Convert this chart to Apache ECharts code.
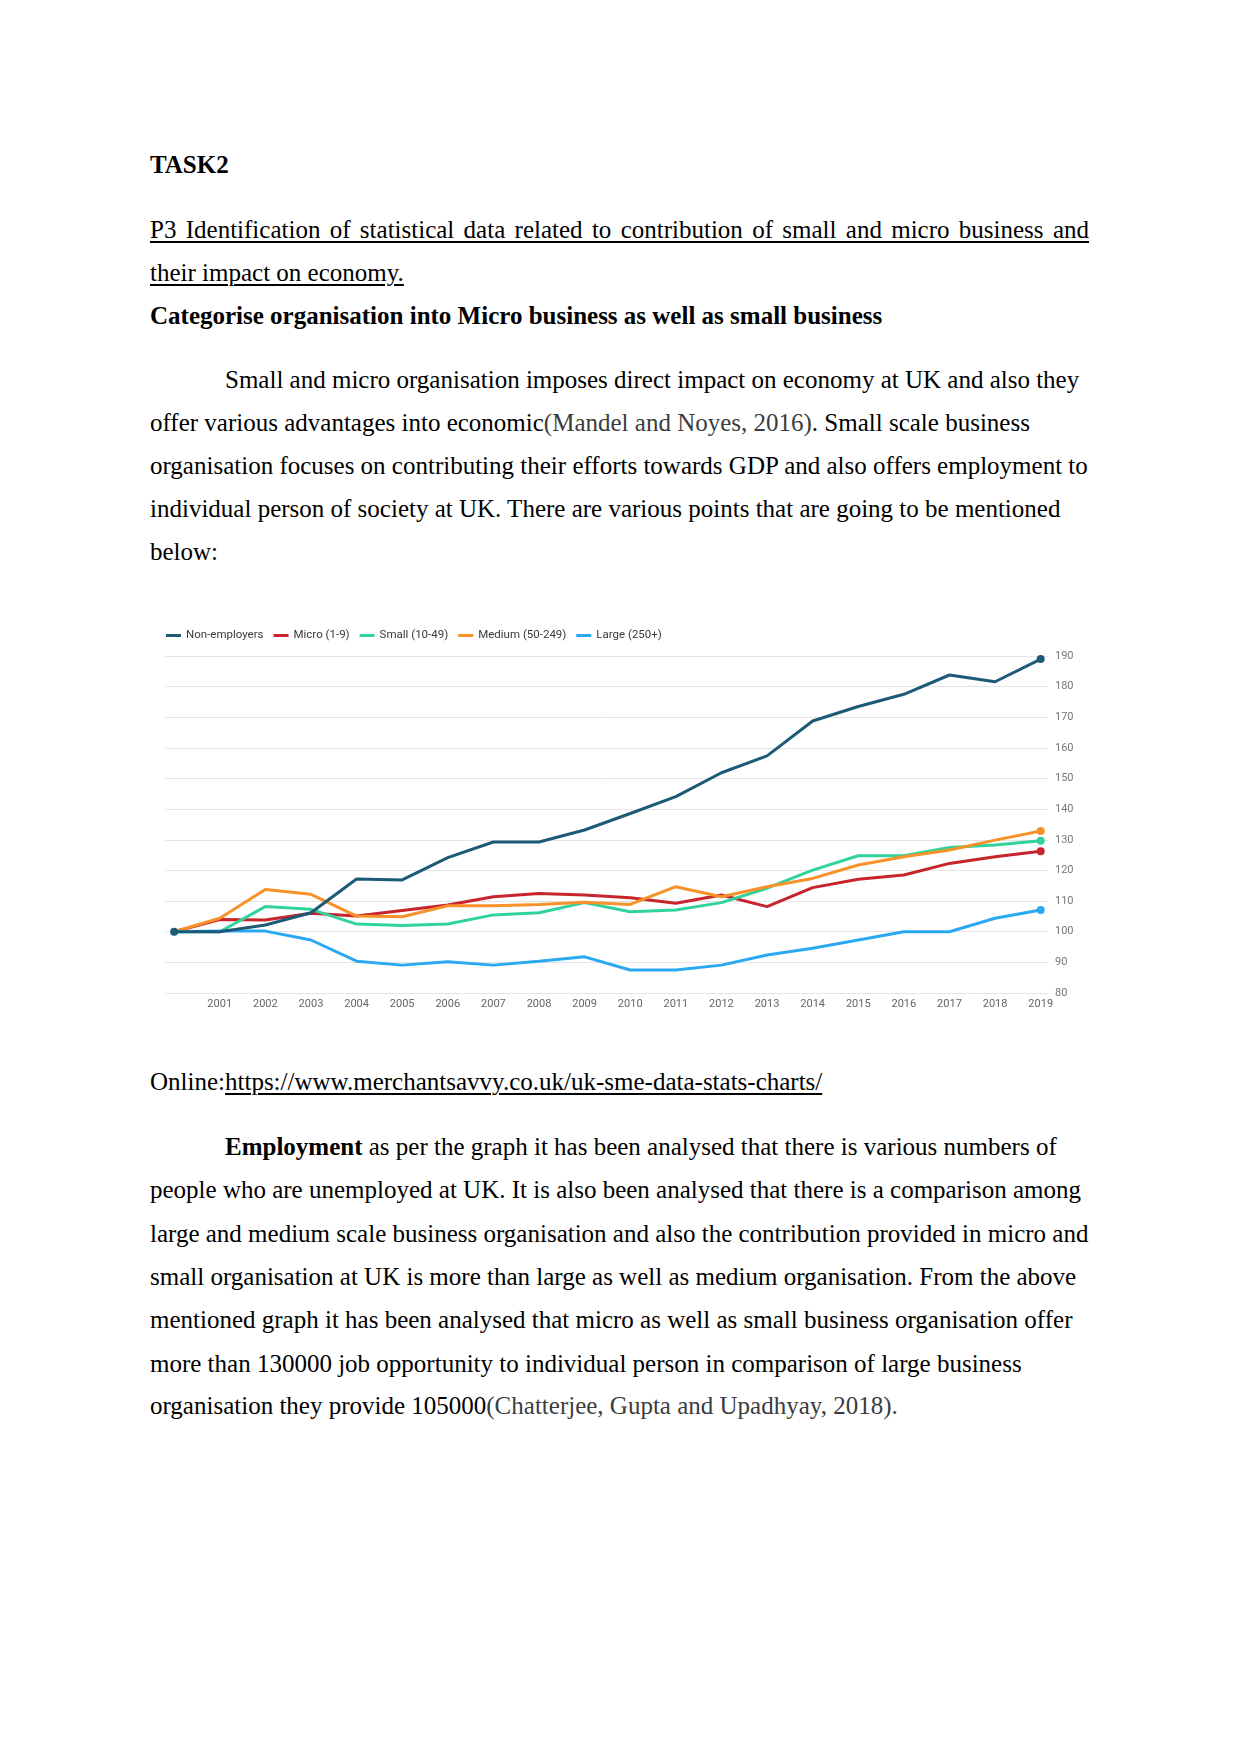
<!DOCTYPE html>
<html>
<head>
<meta charset="utf-8">
<script src="https://cdn.jsdelivr.net/npm/echarts@6/dist/echarts.min.js"></script>
<style>
  html, body { margin: 0; padding: 0; background: #fff; }
  body { width: 1241px; height: 1754px; position: relative; overflow: hidden; font-family: "Liberation Serif", "Times New Roman", serif; font-size: 25px; color: #000; }
  .ln { position: absolute; left: 150px; width: 939px; height: 43px; line-height: 43px; white-space: nowrap; }
  .ind { left: 225px; width: 864px; }
  .b { font-weight: bold; }
  .u { text-decoration: underline; text-decoration-thickness: 1.5px; text-underline-offset: 3px; }
  .just { text-align: justify; text-align-last: justify; white-space: normal; }
  .cite { color: #3c3c3c; }
  #chart { position: absolute; left: 150px; top: 600px; width: 950px; height: 430px; }
</style>
</head>
<body>
<div class="ln b" style="top:143px">TASK2</div>
<div class="ln u just" style="top:208px">P3 Identification of statistical data related to contribution of small and micro business and</div>
<div class="ln u" style="top:250.5px">their impact on economy.</div>
<div class="ln b" style="top:294px">Categorise organisation into Micro business as well as small business</div>

<div class="ln ind" style="top:358px">Small and micro organisation imposes direct impact on economy at UK and also they</div>
<div class="ln" style="top:400.5px">offer various advantages into economic<span class="cite">(Mandel and Noyes, 2016)</span>. Small scale business</div>
<div class="ln" style="top:444px">organisation focuses on contributing their efforts towards GDP and also offers employment to</div>
<div class="ln" style="top:486.5px">individual person of society at UK. There are various points that are going to be mentioned</div>
<div class="ln" style="top:530px">below:</div>

<div id="chart"></div>

<div class="ln" style="top:1060px">Online:<span class="u">https://www.merchantsavvy.co.uk/uk-sme-data-stats-charts/</span></div>

<div class="ln ind" style="top:1124.5px"><span class="b">Employment</span> as per the graph it has been analysed that there is various numbers of</div>
<div class="ln" style="top:1168px">people who are unemployed at UK. It is also been analysed that there is a comparison among</div>
<div class="ln" style="top:1211.5px">large and medium scale business organisation and also the contribution provided in micro and</div>
<div class="ln" style="top:1255px">small organisation at UK is more than large as well as medium organisation. From the above</div>
<div class="ln" style="top:1298px">mentioned graph it has been analysed that micro as well as small business organisation offer</div>
<div class="ln" style="top:1341.5px">more than 130000 job opportunity to individual person in comparison of large business</div>
<div class="ln" style="top:1384px">organisation they provide 105000<span class="cite">(Chatterjee, Gupta and Upadhyay, 2018).</span></div>

<script>
// ---- data ----
const years = [2000,2001,2002,2003,2004,2005,2006,2007,2008,2009,2010,2011,2012,2013,2014,2015,2016,2017,2018,2019];
const tickYears = [2001,2002,2003,2004,2005,2006,2007,2008,2009,2010,2011,2012,2013,2014,2015,2016,2017,2018,2019];
const seriesNames = ['Non-employers','Micro (1-9)','Small (10-49)','Medium (50-249)','Large (250+)'];
const nonEmployers = [100,100,102.2,106.2,117.2,116.9,124.2,129.3,129.3,133.2,138.6,144.1,151.9,157.4,168.8,173.5,177.5,183.8,181.6,189];
const micro        = [100,104,103.8,106,105.1,106.9,108.7,111.4,112.5,112,111.1,109.3,112,108.2,114.4,117.1,118.5,122.3,124.5,126.3];
const small        = [100,100,108.2,107.3,102.5,102,102.5,105.5,106.2,109.5,106.5,107.1,109.5,114.2,120.1,124.8,124.8,127.5,128.3,129.7];
const medium       = [100,104.4,113.8,112.2,105.1,104.9,108.5,108.5,108.9,109.6,108.9,114.7,111.4,114.7,117.4,121.8,124.5,126.7,129.9,132.9];
const large        = [100,100.2,100.2,97.3,90.4,89.1,90.2,89.1,90.4,91.8,87.5,87.5,89.1,92.4,94.6,97.3,100,100,104.4,107.1];
const colors = ['#1d5a78','#c8242c','#30d39c','#f7922a','#2aa9f2'];

const allValues = [nonEmployers, micro, small, medium, large];
const last = years.length - 1;

const chart = echarts.init(document.getElementById('chart'), null, { renderer: 'canvas' });

const series = seriesNames.map((name, k) => ({
  name: name,
  type: 'line',
  data: years.map((y, i) => [y, allValues[k][i]]),
  symbol: 'circle',
  symbolSize: (v, p) => (p.dataIndex === last || (k === 0 && p.dataIndex === 0)) ? 8 : 0,
  showSymbol: true,
  lineStyle: { width: 3, color: colors[k] },
  itemStyle: { color: colors[k] },
  z: k === 0 ? 5 : 2,
  emphasis: { disabled: true },
  animation: false
}));

chart.setOption({
  animation: false,
  textStyle: { fontFamily: 'Roboto, sans-serif' },
  legend: {
    left: 16,
    top: 29.5,
    padding: 0,
    itemWidth: 15,
    itemHeight: 3,
    itemGap: 10,
    icon: 'rect',
    textStyle: { fontSize: 11.5, color: '#3a3a3a', fontFamily: 'Roboto, sans-serif' },
    data: seriesNames
  },
  grid: { left: 15, top: 56, width: 883, height: 337, containLabel: false },
  xAxis: {
    type: 'value',
    min: 1999.8,
    max: 2019.16,
    axisLine: { show: false },
    axisTick: { show: false },
    splitLine: { show: false },
    axisLabel: {
      customValues: tickYears,
      formatter: v => String(v),
      fontSize: 11,
      color: '#666',
      margin: 6
    }
  },
  yAxis: {
    type: 'value',
    position: 'right',
    min: 80,
    max: 190,
    interval: 10,
    axisLine: { show: false },
    axisTick: { show: false },
    splitLine: { lineStyle: { color: '#e4e4e4', width: 1 } },
    axisLabel: { fontSize: 11, color: '#777', margin: 7, align: 'left' }
  },
  series: series
});
</script>
</body>
</html>
